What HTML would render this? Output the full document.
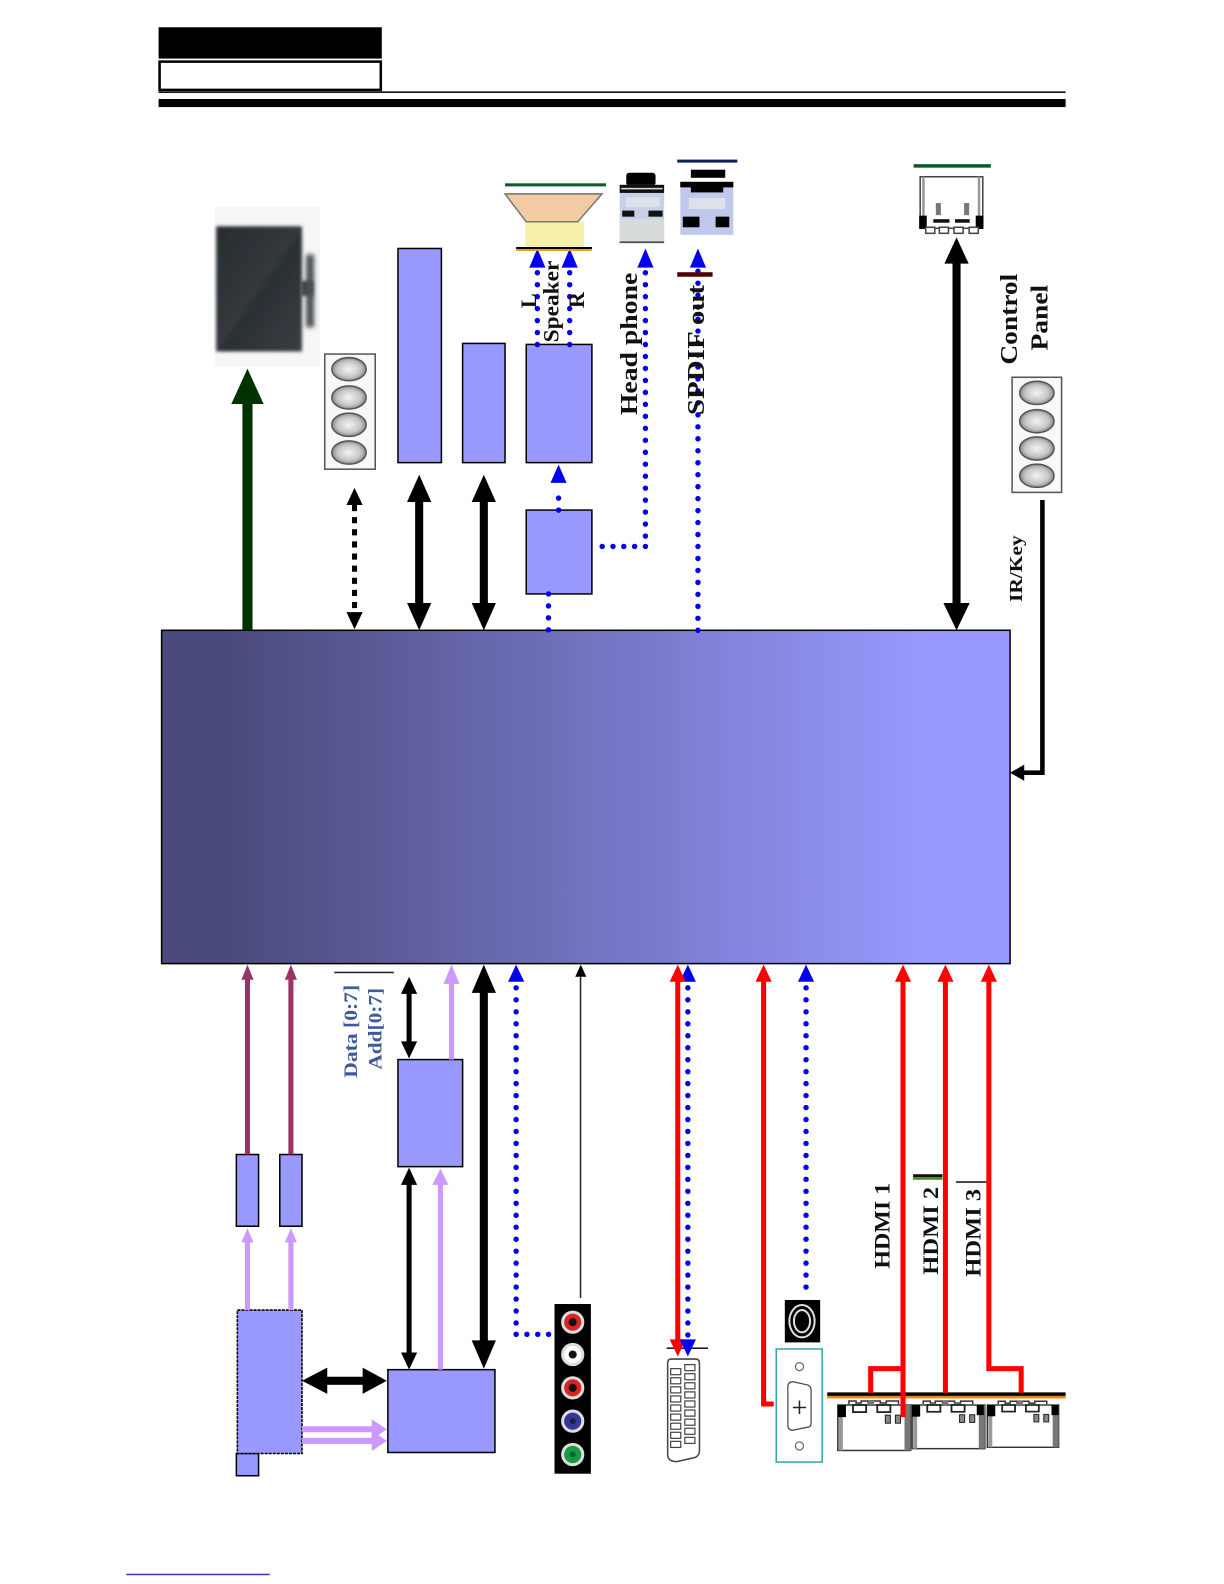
<!DOCTYPE html>
<html><head><meta charset="utf-8"><style>
html,body{margin:0;padding:0;background:#fff}
svg{display:block}
text{font-family:"Liberation Serif",serif;font-weight:bold}
</style></head><body>
<svg width="1224" height="1584" viewBox="0 0 1211.8 1568.2" preserveAspectRatio="none" xmlns="http://www.w3.org/2000/svg">
<defs>
<linearGradient id="g" x1="0" x2="1" y1="0" y2="0">
<stop offset="0.08" stop-color="#4a4a7c"/><stop offset="0.9" stop-color="#9999ff"/>
</linearGradient>
<radialGradient id="ov"><stop offset="0" stop-color="#f4f4f4"/><stop offset="0.7" stop-color="#c4c4c4"/><stop offset="1" stop-color="#888"/></radialGradient>
<linearGradient id="mon" x1="0" x2="1" y1="0" y2="1"><stop offset="0" stop-color="#272d31"/><stop offset="0.5" stop-color="#33383c"/><stop offset="0.52" stop-color="#2a3034"/><stop offset="1" stop-color="#393e42"/></linearGradient>
<filter id="bl" x="-20%" y="-20%" width="140%" height="140%"><feGaussianBlur stdDeviation="1.500"/></filter>
<filter id="bl2" x="-100%" y="-10%" width="300%" height="120%"><feGaussianBlur stdDeviation="2.500"/></filter>
<g id="hc">
<rect x="0" y="0" width="72" height="45" fill="#fff" stroke="#333" stroke-width="1.500"/>
<rect x="1" y="0" width="4" height="45" fill="#999"/>
<rect x="66" y="0" width="6" height="45" fill="#777"/>
<rect x="0" y="0" width="8" height="12" fill="#000"/>
<path d="M11,-1 V-4 H18 V-2 H23 V-4 H30 V-2 H34 V-4 H42 V-2 H48 V-4 H60 V-1" fill="#fff" stroke="#333" stroke-width="1.500"/>
<rect x="15" y="0" width="13" height="7" fill="#fff" stroke="#222" stroke-width="1.800"/>
<rect x="39" y="0" width="13" height="7" fill="#fff" stroke="#222" stroke-width="1.800"/>
<rect x="47" y="10" width="5" height="8" fill="#888" stroke="#222"/>
<rect x="57" y="10" width="5" height="8" fill="#888" stroke="#222"/>
<rect x="30" y="-5" width="6" height="5" fill="#777"/>
</g>
</defs>

<!-- header -->
<rect x="157" y="27" width="221" height="31" fill="#000"/>
<rect x="158" y="61" width="219" height="28" fill="#fff" stroke="#000" stroke-width="2.500"/>
<rect x="157" y="90.500" width="898" height="1.500" fill="#000"/>
<rect x="157" y="98" width="898" height="8" fill="#000"/>
<rect x="125" y="1558" width="142" height="1.500" fill="#3a3ac0"/>

<!-- main block -->
<rect x="160" y="624" width="840" height="330" fill="url(#g)" stroke="#000" stroke-width="1.500"/>

<!-- monitor -->
<rect x="213" y="205" width="104" height="158" fill="#f6f6f6"/>
<rect x="214" y="224" width="85" height="124" fill="url(#mon)" filter="url(#bl)"/>
<rect x="298" y="278" width="12" height="15" fill="#3a4246" filter="url(#bl)"/>
<rect x="303" y="252" width="8" height="72" fill="#4a5054" filter="url(#bl2)"/>

<!-- green arrow -->
<rect x="240" y="398" width="10" height="226" fill="#003300"/>
<polygon points="245,365 229,400 261,400" fill="#003300"/>

<!-- panel 1 -->
<rect x="321.500" y="350.500" width="50" height="114" fill="#f8f8f8" stroke="#555" stroke-width="1.500"/>
<g fill="url(#ov)" stroke="#555" stroke-width="1.500">
<ellipse cx="345.500" cy="365.500" rx="17" ry="11.500"/><ellipse cx="345.500" cy="393.500" rx="17" ry="11.500"/><ellipse cx="345.500" cy="420.500" rx="17" ry="11.500"/><ellipse cx="345.500" cy="448" rx="17" ry="11.500"/>
</g>

<!-- blocks -->
<g fill="#9999ff" stroke="#000" stroke-width="1.500">
<rect x="394" y="246" width="43" height="212"/>
<rect x="458" y="340" width="42" height="118"/>
<rect x="521" y="341" width="65" height="117"/>
<rect x="521" y="505" width="65" height="83"/>
<rect x="234" y="1143" width="22" height="71"/>
<rect x="277" y="1143" width="22" height="71"/>
<rect x="234" y="1439" width="22" height="22"/>
<rect x="235" y="1297" width="64" height="142" stroke-dasharray="3 1"/>
<rect x="384" y="1356" width="106" height="82"/>
<rect x="394" y="1049" width="64" height="106"/>
</g>

<!-- top black arrows -->
<line x1="351" y1="500" x2="351" y2="610" stroke="#000" stroke-width="5" stroke-dasharray="6 6"/>
<polygon points="351,483 343,500 359,500" fill="#000"/><polygon points="351,623 343,606 359,606" fill="#000"/>
<rect x="411" y="490" width="8" height="115" fill="#000"/>
<polygon points="415,470 403,497 427,497" fill="#000"/><polygon points="415,624 403,597 427,597" fill="#000"/>
<rect x="475" y="490" width="8" height="115" fill="#000"/>
<polygon points="479,470 467,497 491,497" fill="#000"/><polygon points="479,624 467,597 491,597" fill="#000"/>
<rect x="943" y="255" width="8" height="350" fill="#000"/>
<polygon points="947,235 935,261 959,261" fill="#000"/><polygon points="947,624 934,597 960,597" fill="#000"/>

<!-- IR/Key -->
<polyline points="1032,495 1032,765 1012,765" fill="none" stroke="#000" stroke-width="4.500"/>
<polygon points="1000,765 1014,757 1014,773" fill="#000"/>

<!-- blue dotted -->
<g fill="none" stroke="#0000ee" stroke-width="5.400" stroke-linecap="round" stroke-dasharray="0 11.850">
<line x1="532" y1="270" x2="532" y2="343"/>
<line x1="564" y1="270" x2="564" y2="343"/>
<line x1="553" y1="505" x2="553" y2="482"/>
<line x1="543" y1="588" x2="543" y2="624"/>
<line x1="639" y1="270" x2="639" y2="541"/>
<line x1="691" y1="624" x2="691" y2="268"/>
<line x1="511" y1="978" x2="511" y2="1321"/>
<line x1="681" y1="978" x2="681" y2="1322"/>
<line x1="798" y1="978" x2="798" y2="1278"/>
</g>
<g fill="none" stroke="#0000ee" stroke-width="5.400" stroke-linecap="round" stroke-dasharray="0 10.700">
<line x1="639" y1="541" x2="595" y2="541"/>
<line x1="511" y1="1321" x2="544" y2="1321"/>
</g>
<g fill="#0000ee">
<polygon points="532,246 524,265 540,265"/><polygon points="564,246 556,265 572,265"/>
<polygon points="553,460 545,478 561,478"/><polygon points="639,246 631,265 647,265"/>
<polygon points="691,246 683,265 699,265"/><polygon points="511,955 503,972 519,972"/>
<polygon points="681,955 673,972 689,972"/>
<polygon points="798,955 790,972 806,972"/>
</g>

<!-- speaker -->
<rect x="500" y="181.500" width="100" height="3" fill="#0a5c2c"/>
<rect x="520" y="219" width="58" height="25" fill="#f7f0a8"/>
<polygon points="500,192 596,192 572,219.500 521,219.500" fill="#f2caa4" stroke="#777" stroke-width="1.500"/>
<rect x="511" y="244.500" width="75" height="2" fill="#000"/><rect x="511" y="246.500" width="75" height="2" fill="#e8a020"/>

<!-- headphone jack -->
<rect x="620" y="171" width="29" height="13" rx="3" fill="#000"/>
<rect x="613.500" y="183" width="44" height="58" fill="#c8d0e8"/>
<rect x="613.500" y="183" width="44" height="8" fill="#111"/>
<rect x="615" y="186" width="41" height="1.500" fill="#ddd"/>
<rect x="620" y="195.500" width="33" height="9.500" fill="#dde2ea"/>
<rect x="616" y="208.500" width="12" height="6" fill="#111"/><rect x="642" y="208.500" width="14" height="6" fill="#111"/>
<rect x="613.500" y="217" width="44" height="22" fill="#d8dcd8"/>
<rect x="613.500" y="239" width="44" height="1.500" fill="#444"/>

<!-- spdif jack -->
<rect x="670.500" y="158" width="59.500" height="3" fill="#10205c"/>
<rect x="684" y="168" width="34" height="8" fill="#000"/>
<rect x="673.500" y="180" width="52.500" height="52.500" fill="#c0c8ec"/>
<rect x="673.500" y="180" width="52.500" height="5.500" fill="#000"/><rect x="684" y="185" width="32" height="5.500" fill="#000"/>
<rect x="682" y="196" width="36" height="11" fill="#dde2ea"/>
<rect x="676" y="214.500" width="16.500" height="10.500" fill="#000"/><rect x="708.500" y="214.500" width="13.500" height="10.500" fill="#000"/>
<rect x="670.500" y="269.500" width="35" height="4.500" fill="#500"/>

<!-- control connector -->
<rect x="904.500" y="162.500" width="76.500" height="3.500" fill="#0a5c2c"/>
<rect x="911" y="175" width="62" height="51" fill="#fff" stroke="#444" stroke-width="1.500"/>
<rect x="913" y="175" width="2.500" height="40" fill="#999"/><rect x="968" y="175" width="2.500" height="40" fill="#999"/>
<rect x="910" y="213.500" width="7.500" height="13" fill="#000"/><rect x="966" y="213.500" width="7.500" height="13" fill="#000"/>
<rect x="926.500" y="201" width="5" height="12" fill="#777"/><rect x="954.500" y="201" width="5" height="12" fill="#777"/>
<g fill="#fff" stroke="#444" stroke-width="1.500"><rect x="916.500" y="225" width="9" height="6"/><rect x="930" y="225" width="9" height="6"/><rect x="944.500" y="225" width="9" height="6"/><rect x="959.500" y="225" width="9" height="6"/></g>
<rect x="924" y="217" width="16" height="3.500" fill="#111"/><rect x="945.500" y="217" width="14.500" height="3.500" fill="#111"/>

<!-- panel 2 -->
<rect x="1002" y="373.500" width="49" height="114" fill="#f8f8f8" stroke="#555" stroke-width="1.500"/>
<g fill="url(#ov)" stroke="#555" stroke-width="1.500">
<ellipse cx="1026.500" cy="389" rx="17" ry="11.500"/><ellipse cx="1026.500" cy="417" rx="17" ry="11.500"/><ellipse cx="1026.500" cy="444" rx="17" ry="11.500"/><ellipse cx="1026.500" cy="471" rx="17" ry="11.500"/>
</g>

<!-- rotated labels -->
<g fill="#111">
<text transform="translate(530.500,305) rotate(-90)" font-size="22">L</text>
<text transform="translate(553,339) rotate(-90)" font-size="22" textLength="81" lengthAdjust="spacingAndGlyphs">Speaker</text>
<text transform="translate(578,305) rotate(-90)" font-size="22">R</text>
<text transform="translate(630.500,411) rotate(-90)" font-size="24" textLength="141" lengthAdjust="spacingAndGlyphs">Head phone</text>
<text transform="translate(697,411) rotate(-90)" font-size="24" textLength="129" lengthAdjust="spacingAndGlyphs">SPDIF out</text>
<text transform="translate(1007,361) rotate(-90)" font-size="24" textLength="90" lengthAdjust="spacingAndGlyphs">Control</text>
<text transform="translate(1037,347) rotate(-90)" font-size="24" textLength="65" lengthAdjust="spacingAndGlyphs">Panel</text>
<text transform="translate(1012,596) rotate(-90)" font-size="18" textLength="66" lengthAdjust="spacingAndGlyphs">IR/Key</text>
<text transform="translate(880.500,1256) rotate(-90)" font-size="22" textLength="85" lengthAdjust="spacingAndGlyphs">HDMI 1</text>
<text transform="translate(928.500,1262) rotate(-90)" font-size="22" textLength="87" lengthAdjust="spacingAndGlyphs">HDMI 2</text>
<text transform="translate(970.500,1264) rotate(-90)" font-size="22" textLength="87" lengthAdjust="spacingAndGlyphs">HDMI 3</text>
</g>
<g fill="#3f5a98">
<text transform="translate(353.500,1067) rotate(-90)" font-size="19" textLength="92" lengthAdjust="spacingAndGlyphs">Data [0:7]</text>
<text transform="translate(377.500,1059) rotate(-90)" font-size="19" textLength="81" lengthAdjust="spacingAndGlyphs">Add[0:7]</text>
</g>
<rect x="331" y="962" width="59" height="1.500" fill="#222"/>

<!-- bottom maroon / purple -->
<g fill="#993366">
<rect x="242.500" y="968" width="5" height="175"/><rect x="285.500" y="968" width="5" height="175"/>
<polygon points="245,955 239,970 251,970"/><polygon points="288,955 282,970 294,970"/>
</g>
<g fill="#cc99ff">
<rect x="242.500" y="1228" width="5" height="69"/><rect x="285.500" y="1228" width="5" height="69"/>
<polygon points="245,1216 239,1230 251,1230"/><polygon points="288,1216 282,1230 294,1230"/>
<rect x="444.500" y="972" width="5" height="77"/><polygon points="447,955 439,974 455,974"/>
<rect x="433.500" y="1170" width="5" height="186"/><polygon points="436,1157 428,1173 444,1173"/>
<rect x="299" y="1412" width="70" height="6"/><rect x="299" y="1423.500" width="70" height="6"/>
<polygon points="383,1415 368,1405 368,1425"/><polygon points="383,1426.500 368,1416.500 368,1436.500"/>
</g>

<!-- bottom black arrows -->
<g fill="#000">
<rect x="402.500" y="980" width="5" height="56"/>
<polygon points="405,967 397,984 413,984"/><polygon points="405,1048 397,1031 413,1031"/>
<rect x="402.500" y="1170" width="5" height="172"/>
<polygon points="405,1156 397,1173 413,1173"/><polygon points="405,1356 397,1339 413,1339"/>
<rect x="475" y="975" width="8" height="360"/>
<polygon points="479,955 467,983 491,983"/><polygon points="479,1355 467,1327 491,1327"/>
<rect x="320" y="1363" width="45" height="8"/>
<polygon points="299,1367 324,1354 324,1380"/><polygon points="383,1367 359,1354 359,1380"/>
<rect x="574" y="965" width="1.500" height="320" fill="#222"/>
<polygon points="575,955 569.500,967 580.500,967"/>
</g>

<!-- RCA -->
<rect x="549" y="1291" width="36" height="168" fill="#000"/>
<g stroke="#ddd" stroke-width="3">
<circle cx="567" cy="1309" r="10" fill="#d22"/><circle cx="567" cy="1341" r="10" fill="#fff"/><circle cx="567" cy="1374" r="10" fill="#d22"/><circle cx="567" cy="1407" r="10" fill="#33389a"/><circle cx="567" cy="1440" r="10" fill="#1a9a40"/>
</g>
<g fill="#111"><circle cx="567" cy="1309" r="4"/><circle cx="567" cy="1341" r="4"/><circle cx="567" cy="1374" r="4"/><circle cx="567" cy="1407" r="3" fill="#223"/><circle cx="567" cy="1440" r="3" fill="#063"/></g>

<!-- SCART -->
<rect x="660" y="1334" width="41" height="1.500" fill="#111"/>
<path d="M664,1345.500 H689 Q692.500,1345.500 692.500,1350 V1436 Q692.500,1441 688,1443 L670,1447 Q661,1447 661,1440 V1350 Q661,1345.500 664,1345.500 Z" fill="#fff" stroke="#444" stroke-width="1.500"/>
<g fill="#fff" stroke="#444" stroke-width="1.200">
<rect x="664" y="1355" width="10" height="6"/><rect x="664" y="1364" width="10" height="6"/><rect x="664" y="1373" width="10" height="6"/><rect x="664" y="1382" width="10" height="6"/><rect x="664" y="1391" width="10" height="6"/><rect x="664" y="1400" width="10" height="6"/><rect x="664" y="1409" width="10" height="6"/><rect x="664" y="1418" width="10" height="6"/><rect x="664" y="1427" width="10" height="6"/>
<rect x="678" y="1351" width="10" height="6"/><rect x="678" y="1360" width="10" height="6"/><rect x="678" y="1369" width="10" height="6"/><rect x="678" y="1378" width="10" height="6"/><rect x="678" y="1387" width="10" height="6"/><rect x="678" y="1396" width="10" height="6"/><rect x="678" y="1405" width="10" height="6"/><rect x="678" y="1414" width="10" height="6"/><rect x="678" y="1423" width="10" height="6"/>
</g>

<!-- coax + VGA -->
<rect x="777" y="1287" width="35" height="42" fill="#000"/>
<ellipse cx="794" cy="1308" rx="12.500" ry="16" fill="none" stroke="#ddd" stroke-width="2"/>
<ellipse cx="794" cy="1308" rx="8" ry="11" fill="none" stroke="#ddd" stroke-width="2"/>
<circle cx="794" cy="1308" r="4.500" fill="#000"/>
<rect x="768.500" y="1335.500" width="45.500" height="112" fill="#fff" stroke="#30a8a8" stroke-width="1.500"/>
<circle cx="791.500" cy="1353" r="4" fill="#fff" stroke="#666" stroke-width="1.200"/>
<circle cx="791.500" cy="1431.500" r="4" fill="#fff" stroke="#666" stroke-width="1.200"/>
<path d="M780,1373 Q780,1368 785,1368 L799,1371 Q803,1372 803,1376 V1409 Q803,1413 799,1413 L785,1416 Q780,1416 780,1411 Z" fill="#fff" stroke="#444" stroke-width="1.200"/>
<path d="M791.500,1386.500 V1400 M785,1393.500 H798" stroke="#222" stroke-width="1.500"/>

<!-- HDMI connectors -->
<use href="#hc" transform="translate(829.500,1391)"/>
<use href="#hc" transform="translate(903,1391) scale(1,.96)"/>
<use href="#hc" transform="translate(977.500,1391) scale(.98,.93)"/>
<rect x="967" y="1391" width="7" height="10" fill="#000"/><rect x="1041" y="1391" width="7" height="10" fill="#000"/>
<rect x="819" y="1378.500" width="236" height="3.500" fill="#000"/><rect x="819" y="1382" width="236" height="2.500" fill="#e88820"/>
<rect x="904" y="1162.500" width="29" height="3" fill="#111"/><rect x="904" y="1165.500" width="29" height="2.500" fill="#4a8a20"/>
<rect x="946.500" y="1169.500" width="30" height="1.500" fill="#111"/>

<!-- red lines -->
<g fill="none" stroke="#ff0000" stroke-width="5">
<line x1="671" y1="968" x2="671" y2="1330"/>
<polyline points="756,968 756,1390 766,1390"/>
<line x1="894" y1="968" x2="894" y2="1403"/>
<polyline points="894,1355 862,1355 862,1379"/>
<line x1="936" y1="968" x2="936" y2="1379"/>
<polyline points="979,968 979,1355 1011,1355 1011,1379"/>
</g>
<g fill="#ff0000">
<polygon points="671,955 663,972 679,972"/><polygon points="671,1343 663,1326 679,1326"/>
<polygon points="756,955 748,972 764,972"/><polygon points="894,955 886,972 902,972"/>
<polygon points="936,955 928,972 944,972"/><polygon points="979,955 971,972 987,972"/>
</g>
<polygon points="681,1343 673,1326 689,1326" fill="#0000ee"/>
</svg>
</body></html>
